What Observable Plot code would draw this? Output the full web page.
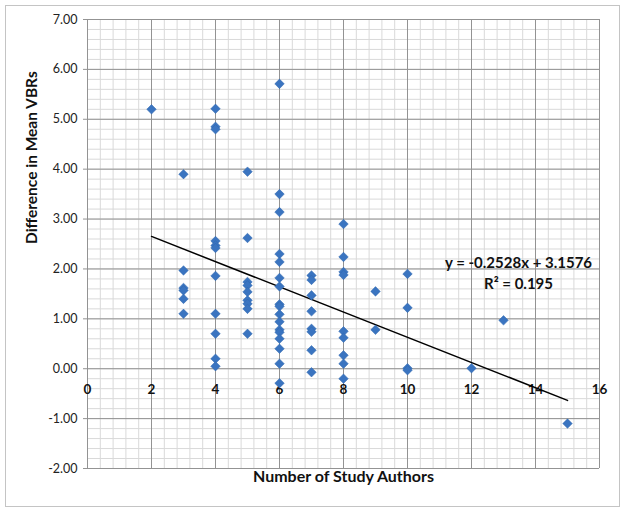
<!DOCTYPE html>
<html>
<head>
<meta charset="utf-8">
<script src="https://cdn.jsdelivr.net/npm/d3@7"></script>
<script src="https://cdn.jsdelivr.net/npm/@observablehq/plot@0.6"></script>
<style>
  html, body { margin: 0; padding: 0; background: #fff; }
  #wrap { position: relative; width: 625px; height: 511px; }
  #border { position: absolute; left: 5px; top: 5px; width: 613px; height: 500px; border: 1px solid #c4c4c4; pointer-events: none; }
  svg { font-family: Lato, "Open Sans", sans-serif; }
</style>
</head>
<body>
<div id="wrap"><div id="border"></div></div>
<script>
// Number of study authors (x) and difference in mean VBRs (y)
const authors = [
  2,
  3, 3, 3, 3, 3, 3,
  4, 4, 4, 4, 4, 4, 4, 4, 4, 4, 4,
  5, 5, 5, 5, 5, 5, 5, 5, 5,
  6, 6, 6, 6, 6, 6, 6, 6, 6, 6, 6, 6, 6, 6, 6, 6, 6,
  7, 7, 7, 7, 7, 7, 7, 7,
  8, 8, 8, 8, 8, 8, 8, 8, 8,
  9, 9,
  10, 10, 10, 10,
  12,
  13,
  15
];
const vbrDiff = [
  5.20,
  3.90, 1.97, 1.62, 1.57, 1.40, 1.10,
  5.21, 4.85, 4.80, 2.56, 2.47, 2.42, 1.86, 1.10, 0.70, 0.20, 0.05,
  3.95, 2.62, 1.74, 1.67, 1.54, 1.37, 1.30, 1.20, 0.70,
  5.71, 3.50, 3.14, 2.30, 2.14, 1.82, 1.65, 1.29, 1.25, 1.09, 0.94, 0.78, 0.73, 0.60, 0.40, 0.10, -0.29,
  1.87, 1.78, 1.47, 1.15, 0.80, 0.74, 0.37, -0.07,
  2.90, 2.24, 1.94, 1.88, 0.75, 0.62, 0.27, 0.10, -0.20,
  1.55, 0.78,
  1.90, 1.22, 0.01, -0.03,
  0.01,
  0.97,
  -1.10
];
const xTicks = [0, 2, 4, 6, 8, 10, 12, 14, 16];
const yTicks = [-2, -1, 0, 1, 2, 3, 4, 5, 6, 7];
const slope = -0.2528;
const intercept = 3.1576;
const rSquared = 0.195;
const xTitle = "Number of Study Authors";
const yTitle = "Difference in Mean VBRs";

const points = authors.map((a, i) => ({x: a, y: vbrDiff[i]}));
const xMin = d3.min(authors), xMax = d3.max(authors);
const trend = [xMin, xMax].map(x => ({x, y: slope * x + intercept}));
const minorX = d3.range(0, 16.0001, 0.4);
const minorY = d3.range(-2, 7.0001, 0.2);
const fmt2 = d3.formatLocale({decimal: ".", thousands: ",", grouping: [3], currency: ["$", ""], minus: "-"}).format(".2f");

const chart = Plot.plot({
  width: 625,
  height: 511,
  marginLeft: 87,
  marginRight: 26,
  marginTop: 19,
  marginBottom: 43,
  x: {domain: [0, 16]},
  y: {domain: [-2, 7]},
  style: {fontFamily: "Lato, 'Open Sans', sans-serif", background: "transparent"},
  marks: [
    Plot.ruleX(minorX, {stroke: "#d9d9d9", strokeWidth: 1}),
    Plot.ruleY(minorY, {stroke: "#d9d9d9", strokeWidth: 1}),
    Plot.ruleX(xTicks, {stroke: "#939393", strokeWidth: 1}),
    Plot.ruleY(yTicks, {stroke: "#939393", strokeWidth: 1}),
    Plot.axisY(yTicks, {tickFormat: fmt2, tickSize: 4, tickPadding: 6, fontSize: 12.5, stroke: "#939393", color: "#222", label: null}),
    Plot.axisX({ticks: [], label: null}),
    Plot.text(xTicks, {x: d => d, y: () => 0, dy: 21, text: d => String(d), fontSize: 13.5, fontWeight: "bold", fill: "#111"}),
    Plot.line(trend, {x: "x", y: "y", stroke: "#000", strokeWidth: 1.5}),
    Plot.dot(points, {x: "x", y: "y", symbol: "diamond2", r: 4.3, fill: "#3a74c0", stroke: "#2f66ad", strokeWidth: 0.5}),
    Plot.text([`y = ${slope.toFixed(4)}x + ${intercept.toFixed(4)}`], {frameAnchor: "top-right", dx: -81, dy: 238, textAnchor: "middle", text: d => d, fontSize: 15, fontWeight: "bold", fill: "#111"}),
    Plot.text([`R² = ${rSquared}`], {frameAnchor: "top-right", dx: -81, dy: 259, textAnchor: "middle", text: d => d, fontSize: 15, fontWeight: "bold", fill: "#111"}),
    Plot.text([yTitle], {frameAnchor: "left", dx: -55, rotate: -90, text: d => d, fontSize: 15.5, fontWeight: "bold", fill: "#111"}),
    Plot.text([xTitle], {frameAnchor: "bottom", dy: 13, text: d => d, fontSize: 16, fontWeight: "bold", fill: "#111"})
  ]
});
document.getElementById("wrap").prepend(chart);
</script>
</body>
</html>
